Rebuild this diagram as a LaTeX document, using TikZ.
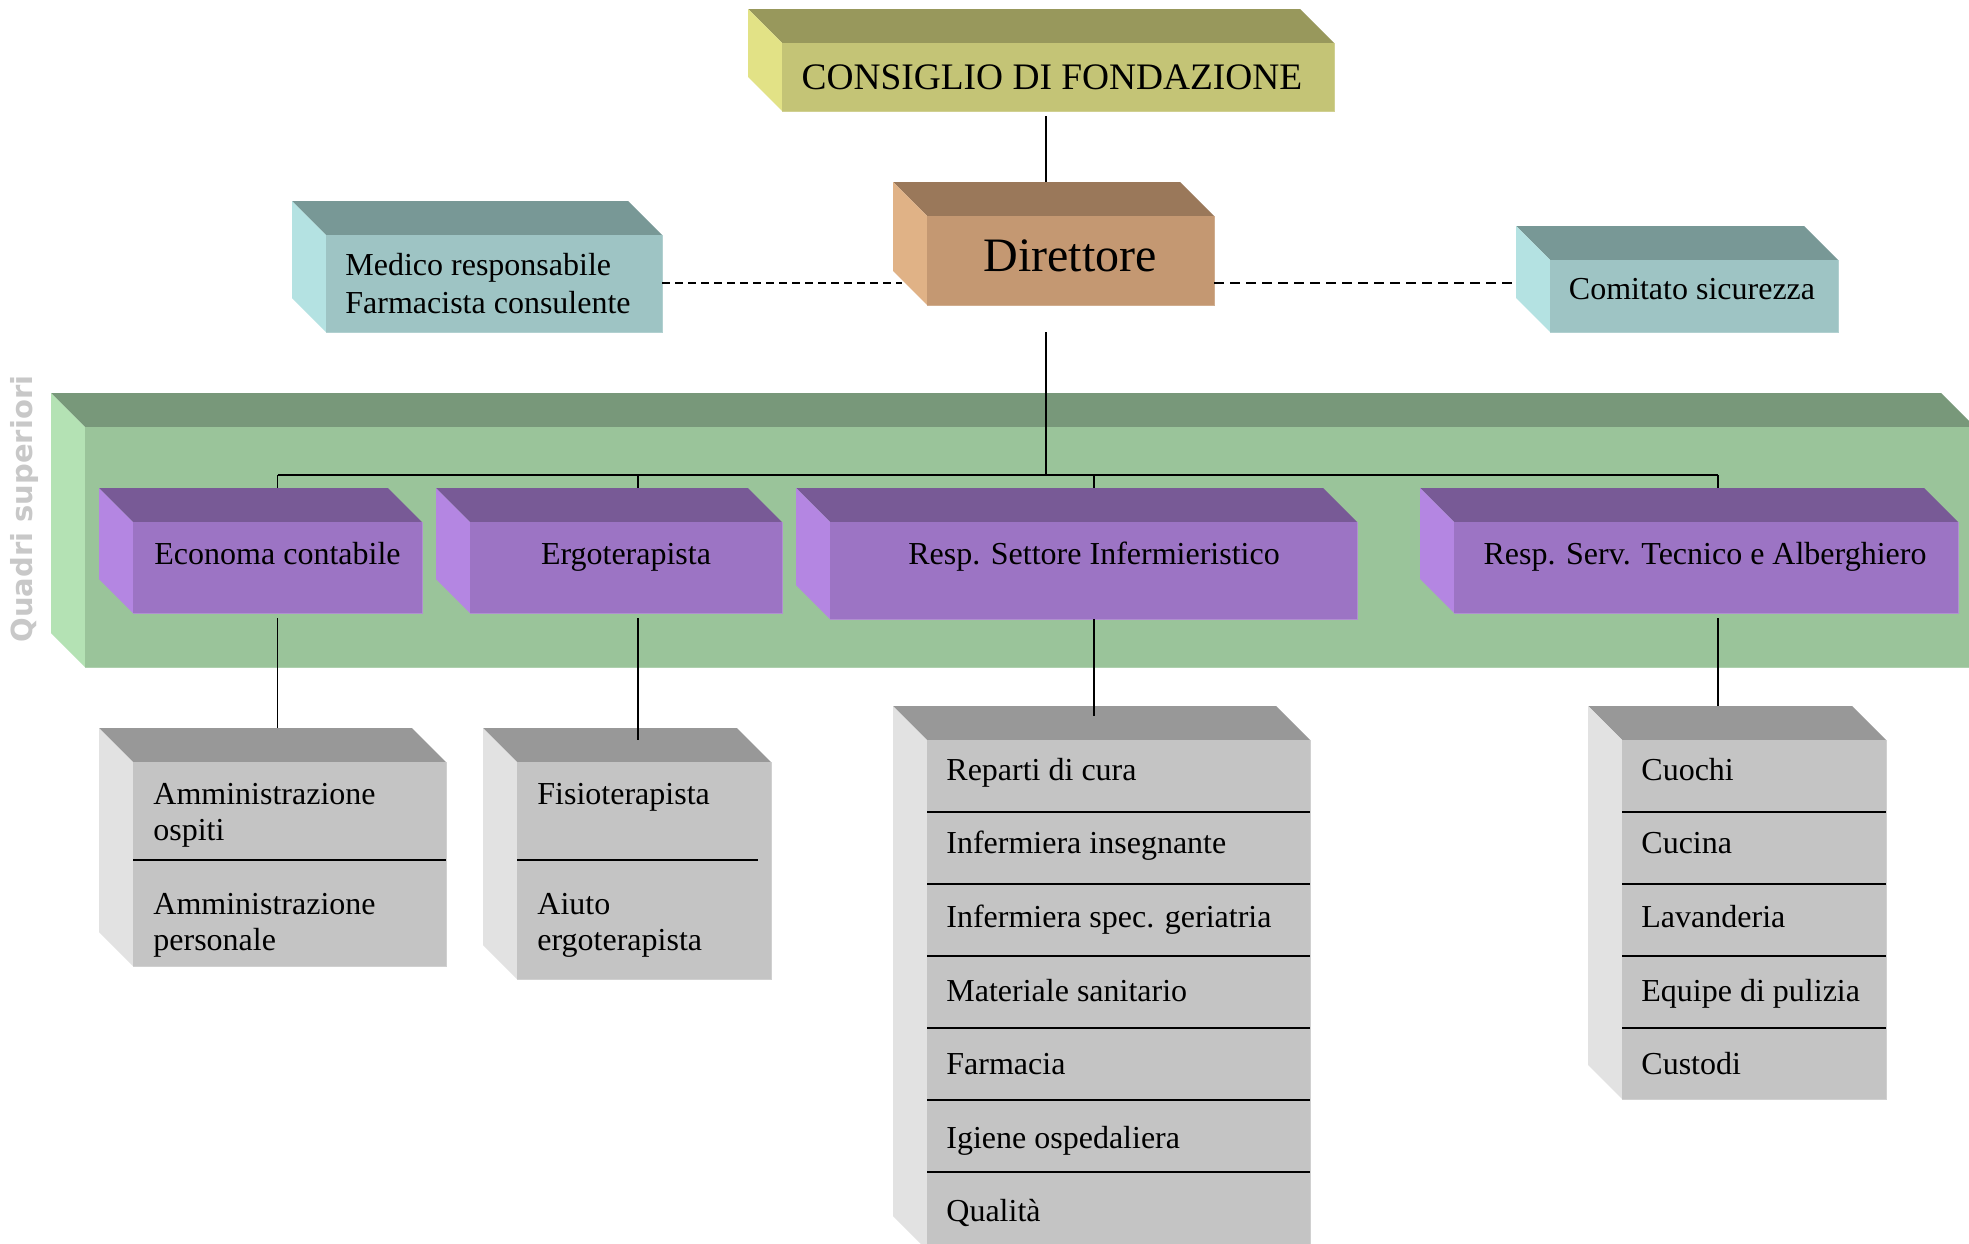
\documentclass[tikz,border=0pt]{standalone}
\usepackage{fontspec}
\setmainfont{Liberation Serif}
\newfontfamily\qsans{DejaVu Sans Bold}
\definecolor{consF}{RGB}{196,196,118}
\definecolor{consT}{RGB}{152,152,92}
\definecolor{consS}{RGB}{226,226,134}
\definecolor{dirF}{RGB}{196,152,114}
\definecolor{dirT}{RGB}{154,120,90}
\definecolor{dirS}{RGB}{224,178,134}
\definecolor{tealF}{RGB}{158,196,196}
\definecolor{tealT}{RGB}{120,152,150}
\definecolor{tealS}{RGB}{180,226,226}
\definecolor{grnF}{RGB}{154,196,154}
\definecolor{grnT}{RGB}{120,152,122}
\definecolor{grnS}{RGB}{180,226,180}
\definecolor{purF}{RGB}{156,116,196}
\definecolor{purT}{RGB}{120,90,150}
\definecolor{purS}{RGB}{180,134,226}
\definecolor{gryF}{RGB}{196,196,196}
\definecolor{gryT}{RGB}{152,152,152}
\definecolor{gryS}{RGB}{226,226,226}
\definecolor{qcol}{RGB}{200,200,200}
% x1,y1,x2,y2 (front face), front, top, side
\newcommand{\cubo}[7]{%
  \fill[#6] (#1,#2) -- (#1-34,#2-34) -- (#3-34,#2-34) -- (#3,#2) -- cycle;
  \fill[#7] (#1,#2) -- (#1-34,#2-34) -- (#1-34,#4-34) -- (#1,#4) -- cycle;
  \fill[#5] (#1,#2) rectangle (#3,#4);
  \draw[#5!80!white, line width=0.5pt] (#1,#4) -- (#3,#4) -- (#3,#2);
}
\tikzset{
  txt/.style={inner sep=0pt, font=\fontsize{16}{18.5}\selectfont},
  conn/.style={line width=0.8pt, black},
  dashconn/.style={line width=0.8pt, black, dash pattern=on 4pt off 2.5pt},
  dashconnb/.style={line width=1pt, black, dash pattern=on 5pt off 3pt},
  divline/.style={line width=0.8pt, black}
}
\begin{document}
\begin{tikzpicture}[x=0.5pt, y=-0.5pt]
\clip (0,0) rectangle (1969,1243);
\fill[white] (0,0) rectangle (1969,1243);

% ---- top level boxes
\cubo{782}{43}{1334}{111}{consF}{consT}{consS}
\node[txt, anchor=base, font=\fontsize{18.7}{21}\selectfont] (cons) at (1052,89) {CONSIGLIO DI FONDAZIONE};

\cubo{927}{216}{1214}{305}{dirF}{dirT}{dirS}
\node[txt, anchor=base, font=\fontsize{24}{27}\selectfont] (dir) at (1070,271) {Direttore};

\cubo{326}{235}{662}{332}{tealF}{tealT}{tealS}
\node[txt, anchor=base west] (med1) at (345,275) {Medico responsabile};
\node[txt, anchor=base west] (med2) at (345,313) {Farmacista consulente};

\cubo{1550}{260}{1838}{332}{tealF}{tealT}{tealS}
\node[txt, anchor=base] (com) at (1692,299) {Comitato sicurezza};

% ---- green band
\cubo{85}{427}{1975}{667}{grnF}{grnT}{grnS}
\node[inner sep=0pt, rotate=90, text=qcol, font=\qsans\fontsize{14.5}{17}\selectfont] (quadri) at (24,509) {Quadri superiori};

% ---- bus
\coordinate (dirB) at (1046,332);
\coordinate (busC) at (1046,475);
\coordinate (busL) at (277.5,475);
\coordinate (busR) at (1718,475);
\coordinate (busE) at (638,475);
\coordinate (busI) at (1094,475);
\coordinate (ecoT) at (277.5,488);
\coordinate (ergT) at (638,500);
\coordinate (rsiT) at (1094,488);
\coordinate (rstT) at (1718,488);
\draw[conn] (busL) -- (busR);
\draw[conn] (dirB) -- (busC);
\draw[conn] (busL) -- (ecoT);
\draw[conn] (busE) -- (ergT);
\draw[conn] (busI) -- (rsiT);
\draw[conn] (busR) -- (rstT);

% ---- purple boxes
\cubo{133}{522}{422}{613}{purF}{purT}{purS}
\node[txt, anchor=base] (eco) at (277.5,564) {Economa contabile};
\cubo{470}{522}{782}{613}{purF}{purT}{purS}
\node[txt, anchor=base] (erg) at (626,564) {Ergoterapista};
\cubo{830}{522}{1357}{619}{purF}{purT}{purS}
\node[txt, anchor=base] (rsi) at (1094,564) {Resp. Settore Infermieristico};
\cubo{1454}{522}{1958}{613}{purF}{purT}{purS}
\node[txt, anchor=base] (rst) at (1705,564) {Resp. Serv. Tecnico e Alberghiero};

% ---- gray boxes
\cubo{133}{762}{446}{966}{gryF}{gryT}{gryS}
\coordinate (dA1) at (133,860); \coordinate (dA2) at (446,860);
\draw[divline] (dA1) -- (dA2);
\node[txt, anchor=base west] (a1) at (153,804) {Amministrazione};
\node[txt, anchor=base west] (a2) at (153,840) {ospiti};
\node[txt, anchor=base west] (a3) at (153,914) {Amministrazione};
\node[txt, anchor=base west] (a4) at (153,950) {personale};

\cubo{517}{762}{771}{979}{gryF}{gryT}{gryS}
\coordinate (dB1) at (517,860); \coordinate (dB2) at (758,860);
\draw[divline] (dB1) -- (dB2);
\node[txt, anchor=base west] (b1) at (537,804) {Fisioterapista};
\node[txt, anchor=base west] (b2) at (537,914) {Aiuto};
\node[txt, anchor=base west] (b3) at (537,950) {ergoterapista};

\cubo{927}{740}{1310}{1250}{gryF}{gryT}{gryS}
\foreach \yy [count=\i] in {812,884,956,1028,1100,1172}{
  \coordinate (dC\i a) at (927,\yy); \coordinate (dC\i b) at (1310,\yy);
  \draw[divline] (dC\i a) -- (dC\i b);
}
\node[txt, anchor=base west] (c1) at (946,780) {Reparti di cura};
\node[txt, anchor=base west] (c2) at (946,853) {Infermiera insegnante};
\node[txt, anchor=base west] (c3) at (946,927) {Infermiera spec. geriatria};
\node[txt, anchor=base west] (c4) at (946,1001) {Materiale sanitario};
\node[txt, anchor=base west] (c5) at (946,1074) {Farmacia};
\node[txt, anchor=base west] (c6) at (946,1148) {Igiene ospedaliera};
\node[txt, anchor=base west] (c7) at (946,1221) {Qualità};

\cubo{1622}{740}{1886}{1099}{gryF}{gryT}{gryS}
\foreach \yy [count=\i] in {812,884,956,1028}{
  \coordinate (dD\i a) at (1622,\yy); \coordinate (dD\i b) at (1886,\yy);
  \draw[divline] (dD\i a) -- (dD\i b);
}
\node[txt, anchor=base west] (d1) at (1641,780) {Cuochi};
\node[txt, anchor=base west] (d2) at (1641,853) {Cucina};
\node[txt, anchor=base west] (d3) at (1641,927) {Lavanderia};
\node[txt, anchor=base west] (d4) at (1641,1001) {Equipe di pulizia};
\node[txt, anchor=base west] (d5) at (1641,1074) {Custodi};

% ---- connectors
\coordinate (consB) at (1046,116);
\coordinate (dirTop) at (1046,182);
\draw[conn] (consB) -- (dirTop);
\coordinate (medE) at (662,283);
\coordinate (dirW) at (902,283);
\coordinate (dirE) at (1214,283);
\coordinate (comW) at (1516,283);
\draw[dashconn] (medE) -- (dirW);
\draw[dashconnb] (dirE) -- (comW);

\coordinate (ecoB) at (277.5,618); \coordinate (aT) at (277.5,728);
\coordinate (ergB) at (638,618);   \coordinate (bT) at (638,740);
\coordinate (rsiB) at (1094,619);  \coordinate (cT) at (1094,716);
\coordinate (rstB) at (1718,618);  \coordinate (dT) at (1718,706);
\draw[conn] (ecoB) -- (aT);
\draw[conn] (ergB) -- (bT);
\draw[conn] (rsiB) -- (cT);
\draw[conn] (rstB) -- (dT);
\end{tikzpicture}
\end{document}
